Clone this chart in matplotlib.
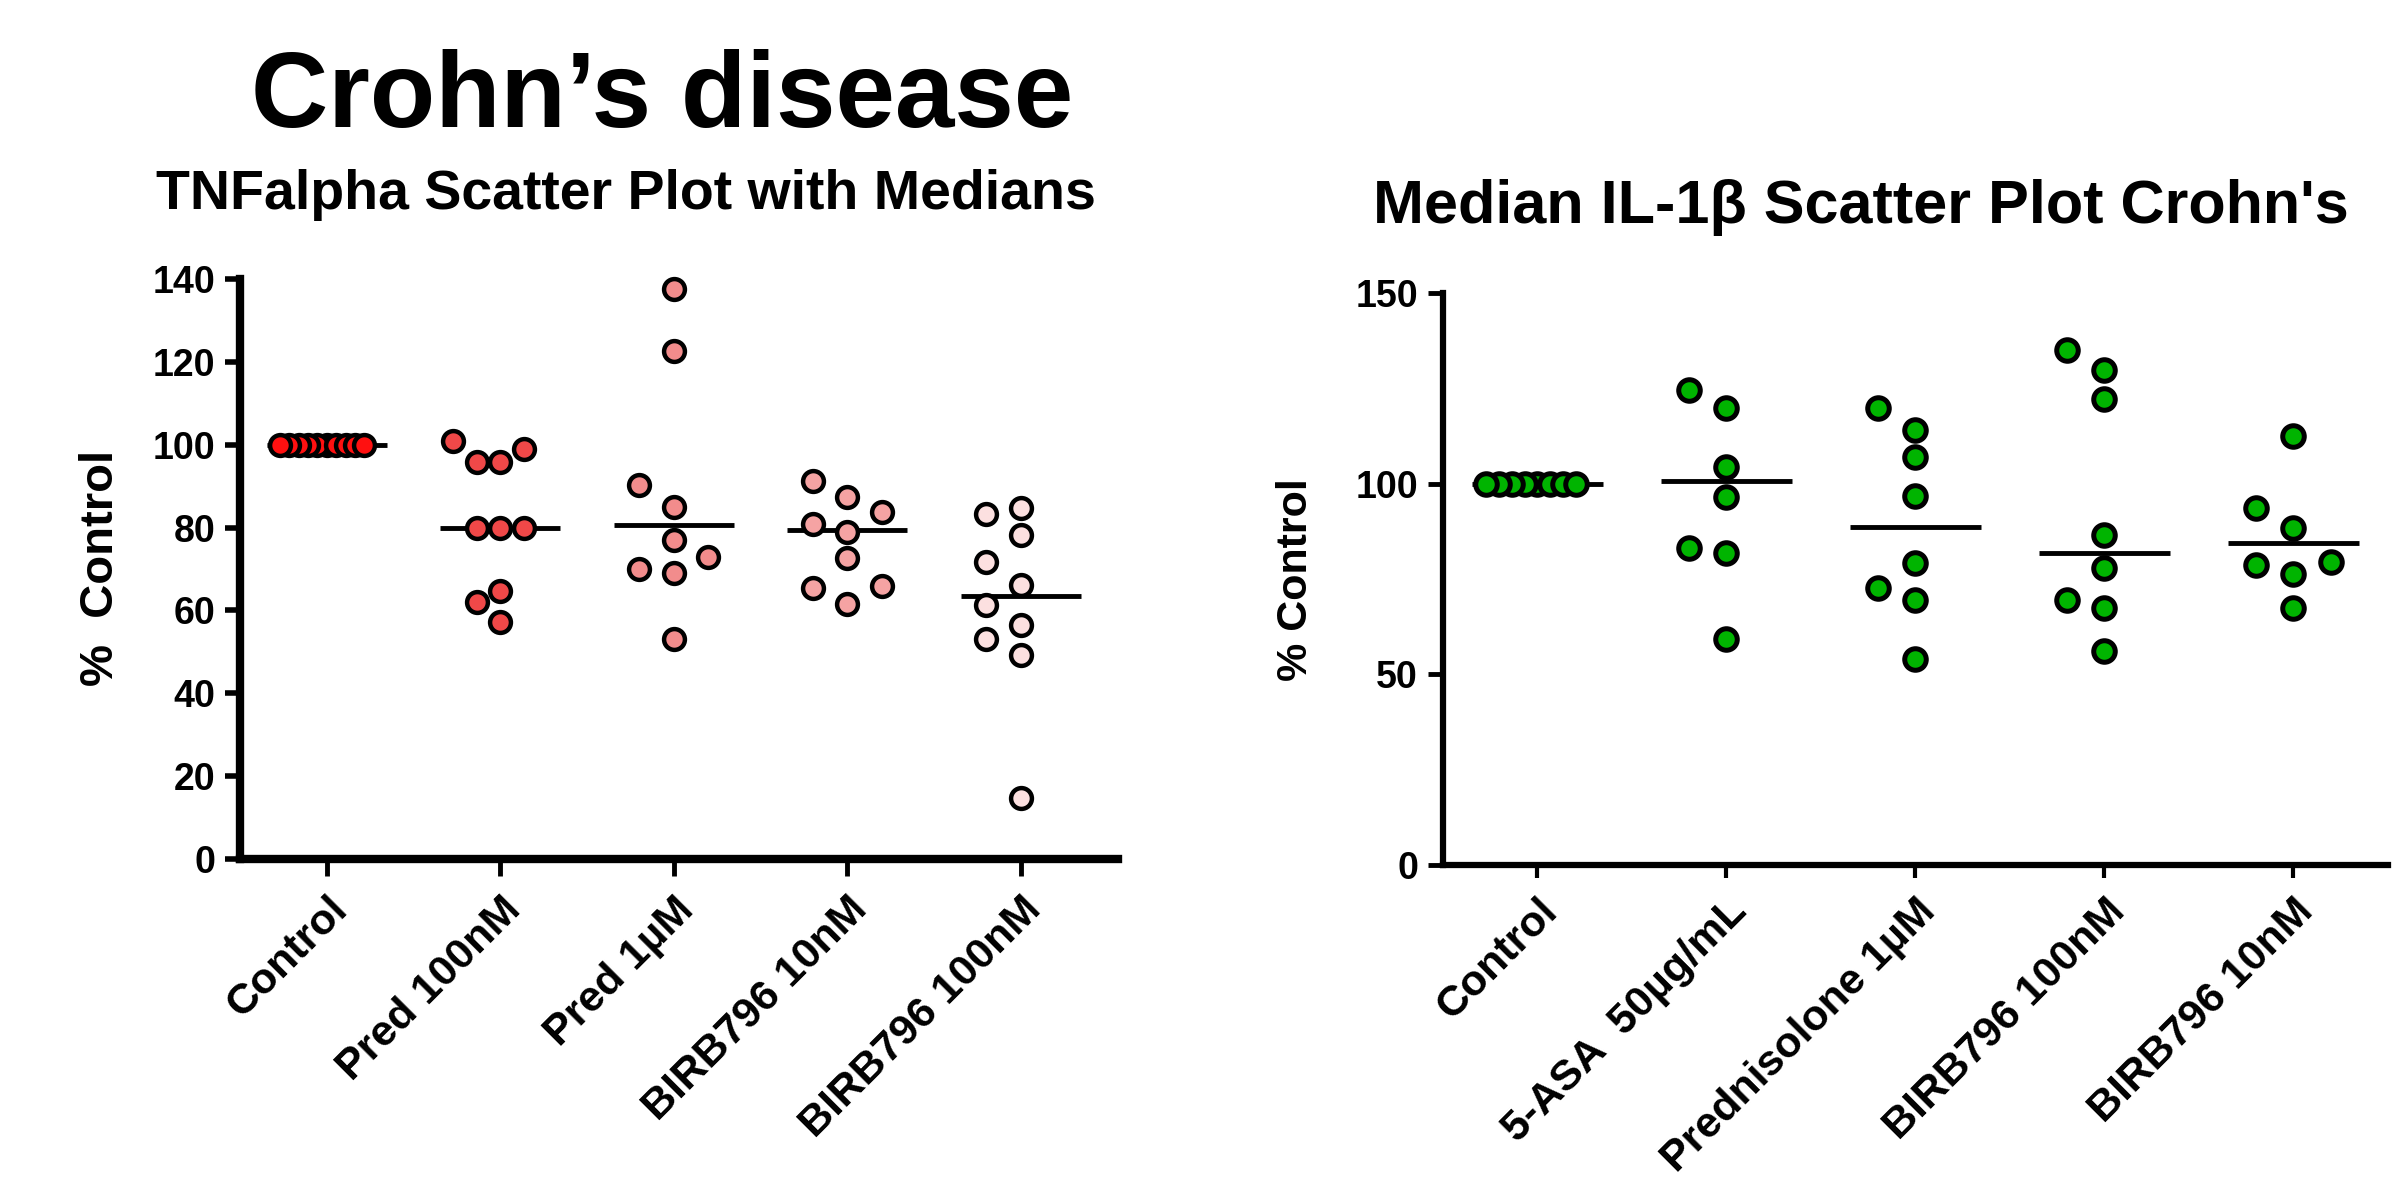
import matplotlib
matplotlib.use("Agg")
import matplotlib.pyplot as plt
import numpy as np

plt.rcParams['font.family'] = ['Liberation Sans', 'DejaVu Sans']
plt.rcParams['font.weight'] = 'bold'

# TNFalpha, % of control
tnf_groups = ['Control', 'Pred 100nM', 'Pred 1µM', 'BIRB796 10nM', 'BIRB796 100nM']
tnf_control = [100, 100, 100, 100, 100, 100, 100, 100, 100, 100]
tnf_pred100 = [101, 99, 95.9, 95.9, 80, 80, 80, 64.6, 62.1, 57.2]
tnf_pred1 = [137.5, 122.7, 90.2, 85, 77, 72.8, 70, 69, 53]
tnf_birb10 = [91.3, 87.4, 83.8, 80.8, 79, 72.6, 65.9, 65.5, 61.6]
tnf_birb100 = [84.8, 83.3, 78.3, 71.7, 66.2, 61.2, 56.6, 53.1, 49.2, 14.7]
tnf_medians = [100, 80, 80.7, 79.4, 63.6]
tnf_colors = ['#ff1010', '#f04848', '#f28c8c', '#f5a3a3', '#fce0e0']

# IL-1beta, % of control
il1_groups = ['Control', '5-ASA  50µg/mL', 'Prednisolone 1µM', 'BIRB796 100nM', 'BIRB796 10nM']
il1_control = [100, 100, 100, 100, 100, 100, 100, 100]
il1_asa = [124.6, 119.9, 104.3, 96.5, 83, 81.8, 59.2]
il1_pred = [119.9, 114, 107.1, 96.8, 79.2, 72.7, 69.6, 54]
il1_birb100 = [135, 129.8, 122.3, 86.4, 77.9, 69.6, 67.5, 56.1]
il1_birb10 = [112.4, 93.6, 88.4, 79.4, 78.6, 76.3, 67.5]
il1_medians = [100, 100.7, 88.6, 81.8, 84.3]
il1_color = '#00b400'


def swarm(values, ax, diam_px, step=0.2, max_half=0.27):
    # simple column packing like Prism: same slot only if no vertical overlap
    y0 = ax.transData.transform((0, 0))[1]
    y1 = ax.transData.transform((0, 1))[1]
    diam = diam_px / abs(y1 - y0)
    order = [0, -1, 1, -2, 2, -3, 3, -4, 4, -5, 5, -6, 6]
    slots = np.zeros(len(values))
    placed = []
    for k in np.argsort(values, kind='stable'):
        v = values[k]
        for s in order:
            if all(ps != s or abs(pv - v) >= diam for ps, pv in placed):
                break
        placed.append((s, v))
        slots[k] = s
    offs = slots * step
    widest = np.abs(offs).max()
    if widest > max_half:
        offs *= max_half / widest
    return offs


def style_axes(ax, spine_w, ytick_len, ytick_w, xtick_len, xtick_w):
    ax.spines['top'].set_visible(False)
    ax.spines['right'].set_visible(False)
    ax.spines['left'].set_linewidth(spine_w)
    ax.spines['bottom'].set_linewidth(spine_w)
    ax.tick_params(axis='y', length=ytick_len, width=ytick_w, labelsize=27, pad=7)
    ax.tick_params(axis='x', length=xtick_len, width=xtick_w, labelsize=31, pad=10)


fig = plt.figure(figsize=(23.98, 11.86), dpi=100)

# left panel: TNFalpha
ax1 = fig.add_axes([0.1001, 0.2757, 0.3661, 0.4891])
ax1.set_xlim(-0.5, 4.56)
ax1.set_ylim(0, 140)
ax1.set_yticks(np.arange(0, 141, 20))
style_axes(ax1, 6, 11, 4, 12, 3.5)
tnf_data = [tnf_control, tnf_pred100, tnf_pred1, tnf_birb10, tnf_birb100]
for i, vals in enumerate(tnf_data):
    ax1.hlines(tnf_medians[i], i - 0.345, i + 0.345, color='black', lw=3.5, zorder=2)
    offs = swarm(vals, ax1, 23)
    ax1.plot(i + offs, vals, 'o', ms=15, mfc=tnf_colors[i], mec='black', mew=3.2,
             ls='none', zorder=3, clip_on=False)
ax1.set_xticks(range(len(tnf_groups)))
ax1.set_xticklabels(tnf_groups, rotation=45, ha='right', rotation_mode='anchor')

# right panel: IL-1beta
ax2 = fig.add_axes([0.6017, 0.2707, 0.3941, 0.4823])
ax2.set_xlim(-0.5, 4.5)
ax2.set_ylim(0, 150)
ax2.set_yticks([0, 50, 100, 150])
style_axes(ax2, 4.5, 11, 3.5, 9, 3)
il1_data = [il1_control, il1_asa, il1_pred, il1_birb100, il1_birb10]
for i, vals in enumerate(il1_data):
    ax2.hlines(il1_medians[i], i - 0.345, i + 0.345, color='black', lw=3.5, zorder=2)
    offs = swarm(vals, ax2, 24)
    ax2.plot(i + offs, vals, 'o', ms=15.5, mfc=il1_color, mec='black', mew=3.6,
             ls='none', zorder=3, clip_on=False)
ax2.set_xticks(range(len(il1_groups)))
ax2.set_xticklabels(il1_groups, rotation=45, ha='right', rotation_mode='anchor')

# titles and axis labels
fig.text(0.276, 0.8929, 'Crohn\u2019s disease', fontsize=77, fontweight='bold',
         ha='center', va='baseline')
fig.text(0.261, 0.8238, 'TNFalpha Scatter Plot with Medians', fontsize=40,
         fontweight='bold', ha='center', va='baseline')
fig.text(0.776, 0.812, "Median IL-1\u03b2 Scatter Plot Crohn's", fontsize=44,
         fontweight='bold', ha='center', va='baseline')
fig.text(0.0421, 0.521, '%  Control', fontsize=34, fontweight='bold',
         rotation=90, ha='center', va='center')
fig.text(0.5404, 0.511, '% Control', fontsize=31, fontweight='bold',
         rotation=90, ha='center', va='center')

fig.savefig('out.png', dpi=100)
